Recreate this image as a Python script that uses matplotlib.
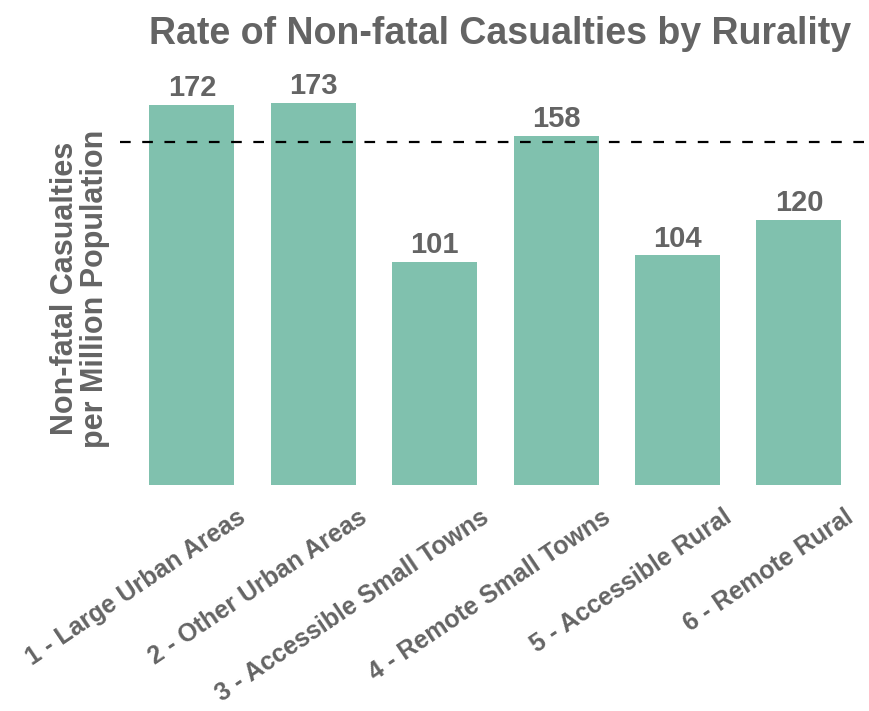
import matplotlib
matplotlib.use("Agg")
import matplotlib.pyplot as plt
from matplotlib import transforms

categories = ["1 - Large Urban Areas", "2 - Other Urban Areas", "3 - Accessible Small Towns",
              "4 - Remote Small Towns", "5 - Accessible Rural", "6 - Remote Rural"]
rates = [172, 173, 101, 158, 104, 120]
average_rate = 155

title = "Rate of Non-fatal Casualties by Rurality"
ylabel = "Non-fatal Casualties\nper Million Population"

GREY = "#646464"
TEAL = "#80c1ae"
FONT = ["Liberation Sans", "Arimo", "DejaVu Sans"]

fig = plt.figure(figsize=(8.69, 7.11), dpi=100)
ax = fig.add_axes([0.138, 0.318, 0.862, 0.6217])

x = list(range(len(categories)))
ax.bar(x, rates, width=0.7, color=TEAL, zorder=2)
ax.axhline(average_rate, color="black", lw=1.6, ls=(0, (4.8, 5.2)), zorder=3)

for xi, v in zip(x, rates):
    ax.annotate(str(v), (xi, v), xytext=(0, 6), textcoords="offset points",
                ha="center", va="baseline", fontsize=21, fontweight="bold",
                color=GREY, family=FONT)

ax.set_xlim(-0.593, 5.577)
ax.set_ylim(0, 200)
ax.set_yticks([])
ax.set_xticks(x)
ax.set_xticklabels(categories)
for s in ax.spines.values():
    s.set_visible(False)
ax.tick_params(axis="x", length=0, pad=0)

shift = transforms.ScaledTranslation(45 / 100, -20 / 100, fig.dpi_scale_trans)
for lbl in ax.get_xticklabels():
    lbl.set_rotation(34)
    lbl.set_rotation_mode("anchor")
    lbl.set_ha("right")
    lbl.set_va("top")
    lbl.set_fontsize(18)
    lbl.set_fontweight("bold")
    lbl.set_color(GREY)
    lbl.set_family(FONT)
    lbl.set_transform(lbl.get_transform() + shift)

fig.text(0.575, 1 - 44 / 711, title, ha="center", va="baseline", fontsize=27,
         fontweight="bold", color=GREY, family=FONT)
fig.text(0.092, 0.594, ylabel, ha="center", va="center", rotation=90,
         fontsize=22, fontweight="bold", color=GREY, family=FONT,
         linespacing=1.0)

fig.savefig("out.png", dpi=100)
